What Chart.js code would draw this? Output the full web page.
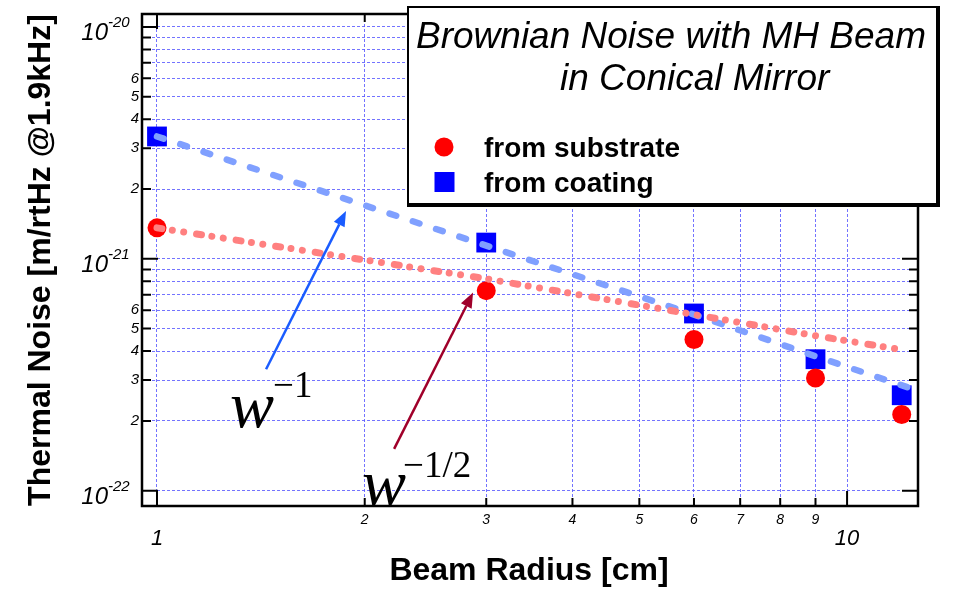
<!DOCTYPE html>
<html>
<head>
<meta charset="utf-8">
<script src="https://cdn.jsdelivr.net/npm/chart.js@4.4.1/dist/chart.umd.min.js"></script>
<style>
    html, body { margin: 0; padding: 0; background: #fff; }
    #wrap { width: 954px; height: 590px; }
</style>
</head>
<body>
<div id="wrap"><canvas id="noiseChart" width="954" height="590"></canvas></div>
<script>
// Beam radius [cm]
const radii = [1, 3, 6, 9, 12];
// Thermal noise [m/rtHz] at 1.9 kHz
const substrateNoise = [1.36e-21, 7.29e-22, 4.49e-22, 3.06e-22, 2.13e-22];
const coatingNoise = [3.37e-21, 1.175e-21, 5.81e-22, 3.69e-22, 2.58e-22];

// Guide lines (w^-1/2 and w^-1)
const substrateFitRadii = [1, 3, 6, 9, 11.9];
const substrateFitNoise = [1.36e-21, 8.2e-22, 5.75e-22, 4.66e-22, 4.07e-22];
const coatingFitRadii = [1, 3, 6, 9, 12.25];
const coatingFitNoise = [3.37e-21, 1.14e-21, 5.75e-22, 3.8e-22, 2.79e-22];

// Axis ticks
const xTicks = [1, 2, 3, 4, 5, 6, 7, 8, 9, 10];
const xTickLabels = ['1', '2', '3', '4', '5', '6', '7', '8', '9', '10'];
const xMajorTicks = [1, 10];
const yTicks = [
    1e-22, 2e-22, 3e-22, 4e-22, 5e-22, 6e-22, 7e-22, 8e-22, 9e-22,
    1e-21, 2e-21, 3e-21, 4e-21, 5e-21, 6e-21, 7e-21, 8e-21, 9e-21,
    1e-20
];
const yTickLabels = [
    '10', '2', '3', '4', '5', '6', '', '', '',
    '10', '2', '3', '4', '5', '6', '', '', '',
    '10'
];
const yMajorTicks = [1e-22, 1e-21, 1e-20];
const yMajorExponents = ['-22', '-21', '-20'];

// Arrow annotations [radius, noise] tail -> tip
const coatingArrow = [[1.439, 3.34e-22], [1.879, 1.607e-21]];
const substrateArrow = [[2.206, 1.514e-22], [2.871, 7.15e-22]];

const SANS = '"Liberation Sans", Arial, Helvetica, sans-serif';
const SERIF = '"Liberation Serif", "Times New Roman", serif';

const toPoints = (xs, ys) => xs.map((x, i) => ({ x: x, y: ys[i] }));

// Draws frame, inward ticks, superscript labels, titles, legend box and arrows
const decorPlugin = {
    id: 'decor',
    afterDraw(chart) {
        const ctx = chart.ctx;
        const { left, right, top, bottom } = chart.chartArea;
        const xs = chart.scales.x;
        const ys = chart.scales.y;
        ctx.save();

        // inward ticks on all four sides
        ctx.strokeStyle = '#000';
        ctx.lineWidth = 2;
        ctx.beginPath();
        xTicks.forEach(v => {
            const px = xs.getPixelForValue(v);
            const len = xMajorTicks.includes(v) ? 15 : 8;
            ctx.moveTo(px, bottom); ctx.lineTo(px, bottom - len);
            ctx.moveTo(px, top); ctx.lineTo(px, top + len);
        });
        yTicks.forEach(v => {
            const py = ys.getPixelForValue(v);
            const len = yMajorTicks.includes(v) ? 16 : 9;
            ctx.moveTo(left, py); ctx.lineTo(left + len, py);
            ctx.moveTo(right, py); ctx.lineTo(right - len, py);
        });
        ctx.stroke();

        // frame
        ctx.lineWidth = 2.5;
        ctx.strokeRect(left, top, right - left, bottom - top);

        // major labels: 10^n on y, 1 and 10 on x
        ctx.fillStyle = '#000';
        yMajorTicks.forEach((v, i) => {
            const py = ys.getPixelForValue(v);
            ctx.font = 'italic 24px ' + SANS;
            ctx.textAlign = 'right';
            ctx.textBaseline = 'alphabetic';
            ctx.fillText(yTickLabels[yTicks.indexOf(v)], 108, py + 13);
            ctx.font = 'italic 15px ' + SANS;
            ctx.textAlign = 'left';
            ctx.fillText(yMajorExponents[i], 108, py);
        });
        ctx.font = 'italic 22px ' + SANS;
        ctx.textAlign = 'center';
        xMajorTicks.forEach(v => {
            ctx.fillText(xTickLabels[xTicks.indexOf(v)], xs.getPixelForValue(v), 545);
        });

        // axis titles
        ctx.font = 'bold 32px ' + SANS;
        ctx.textAlign = 'center';
        ctx.fillText('Beam Radius [cm]', 529, 580);
        ctx.save();
        ctx.translate(50, 260);
        ctx.rotate(-Math.PI / 2);
        ctx.fillText('Thermal Noise [m/rtHz @1.9kHz]', 0, 0);
        ctx.restore();

        // legend box with shadowed right/bottom edges
        ctx.fillStyle = '#000';
        ctx.fillRect(407, 6, 533, 201);
        ctx.fillStyle = '#fff';
        ctx.fillRect(409, 8, 527, 195);
        ctx.fillStyle = '#000';
        ctx.font = 'italic 37px ' + SANS;
        ctx.textAlign = 'left';
        ctx.fillText('Brownian Noise with MH Beam', 416, 48);
        ctx.fillText('in Conical Mirror', 560, 90);
        ctx.fillStyle = '#ff0000';
        ctx.beginPath();
        ctx.arc(444, 147, 9.5, 0, Math.PI * 2);
        ctx.fill();
        ctx.fillStyle = '#0000ff';
        ctx.fillRect(434.5, 172, 20, 20);
        ctx.fillStyle = '#000';
        ctx.font = 'bold 28px ' + SANS;
        ctx.fillText('from substrate', 484, 157);
        ctx.fillText('from coating', 484, 192);

        // arrows with power-law labels
        const drawArrow = (arrow, color) => {
            const x0 = xs.getPixelForValue(arrow[0][0]);
            const y0 = ys.getPixelForValue(arrow[0][1]);
            const x1 = xs.getPixelForValue(arrow[1][0]);
            const y1 = ys.getPixelForValue(arrow[1][1]);
            const ang = Math.atan2(y1 - y0, x1 - x0);
            const headLen = 15, headHalf = 6;
            const bx = x1 - headLen * Math.cos(ang);
            const by = y1 - headLen * Math.sin(ang);
            ctx.strokeStyle = color;
            ctx.fillStyle = color;
            ctx.lineWidth = 2.5;
            ctx.beginPath();
            ctx.moveTo(x0, y0);
            ctx.lineTo(bx, by);
            ctx.stroke();
            ctx.beginPath();
            ctx.moveTo(x1, y1);
            ctx.lineTo(bx + headHalf * Math.sin(ang), by - headHalf * Math.cos(ang));
            ctx.lineTo(bx - headHalf * Math.sin(ang), by + headHalf * Math.cos(ang));
            ctx.closePath();
            ctx.fill();
            return { x: x0, y: y0 };
        };
        const t1 = drawArrow(coatingArrow, '#1a5cff');
        const t2 = drawArrow(substrateArrow, '#a0002a');

        ctx.fillStyle = '#000';
        ctx.textAlign = 'left';
        ctx.font = 'italic 66px ' + SERIF;
        ctx.fillText('w', t1.x - 36, t1.y + 58);
        ctx.fillText('w', t2.x - 32, t2.y + 56);
        ctx.font = '37px ' + SERIF;
        ctx.fillText('\u22121', t1.x + 7, t1.y + 28);
        ctx.fillText('\u22121/2', t2.x + 9, t2.y + 28);

        ctx.restore();
    }
};

const gridStyle = {
    color: 'rgba(90, 90, 255, 0.85)',
    lineWidth: 1,
    drawTicks: false
};

new Chart(document.getElementById('noiseChart').getContext('2d'), {
    type: 'line',
    data: {
        datasets: [
            {
                label: 'substrate fit',
                data: toPoints(substrateFitRadii, substrateFitNoise),
                borderColor: '#ff8080',
                borderWidth: 7,
                borderCapStyle: 'round',
                borderDash: [5, 10.5, 0.01, 11.5, 0.01, 13],
                pointRadius: 0,
                fill: false,
                order: 0
            },
            {
                label: 'coating fit',
                data: toPoints(coatingFitRadii, coatingFitNoise),
                borderColor: '#80a0ff',
                borderWidth: 6.5,
                borderCapStyle: 'round',
                borderDash: [7, 17.5],
                pointRadius: 0,
                fill: false,
                order: 1
            },
            {
                label: 'from substrate',
                data: toPoints(radii, substrateNoise),
                showLine: false,
                pointStyle: 'circle',
                pointRadius: 9.5,
                pointBorderWidth: 0,
                backgroundColor: '#ff0000',
                borderColor: '#ff0000',
                order: 2
            },
            {
                label: 'from coating',
                data: toPoints(radii, coatingNoise),
                showLine: false,
                pointStyle: 'rect',
                pointRadius: 14,
                pointBorderWidth: 0,
                backgroundColor: '#0000ff',
                borderColor: '#0000ff',
                order: 3
            }
        ]
    },
    options: {
        responsive: false,
        animation: false,
        layout: {
            padding: { top: 12, right: 36, left: 0, bottom: 0 }
        },
        plugins: {
            legend: { display: false },
            tooltip: { enabled: false }
        },
        scales: {
            x: {
                type: 'logarithmic',
                min: 0.9512,
                max: 12.67,
                bounds: 'data',
                afterBuildTicks: scale => {
                    scale.ticks = xTicks.map(v => ({ value: v }));
                },
                afterFit: scale => { scale.height = 84; },
                grid: gridStyle,
                border: { display: false, dash: [3, 2] },
                ticks: {
                    autoSkip: false,
                    maxRotation: 0,
                    padding: 6,
                    color: '#000',
                    font: { family: SANS, size: 14, style: 'italic' },
                    callback: (value, index) =>
                        xMajorTicks.includes(xTicks[index]) ? '' : xTickLabels[index]
                }
            },
            y: {
                type: 'logarithmic',
                min: 8.59e-23,
                max: 1.137e-20,
                bounds: 'data',
                afterBuildTicks: scale => {
                    scale.ticks = yTicks.map(v => ({ value: v }));
                },
                afterFit: scale => { scale.width = 142; },
                grid: gridStyle,
                border: { display: false, dash: [3, 2] },
                ticks: {
                    autoSkip: false,
                    padding: 3,
                    color: '#000',
                    font: { family: SANS, size: 15, style: 'italic' },
                    callback: (value, index) =>
                        yMajorTicks.includes(yTicks[index]) ? '' : yTickLabels[index]
                }
            }
        }
    },
    plugins: [decorPlugin]
});
</script>
</body>
</html>
